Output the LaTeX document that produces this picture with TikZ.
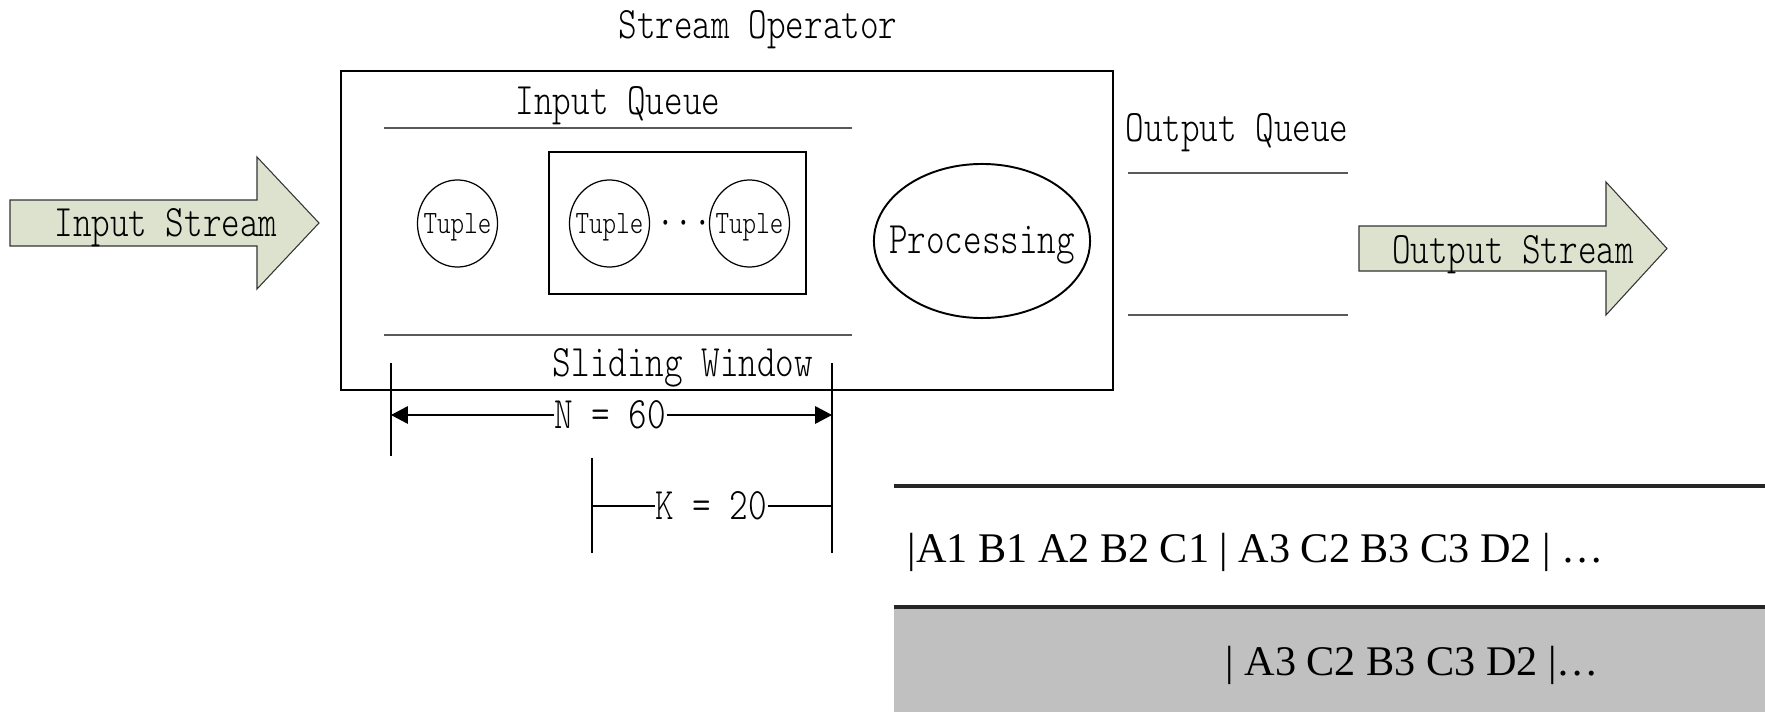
\documentclass[tikz,border=0pt]{standalone}
\usepackage{fontspec}
\usepackage{tikz}
\usetikzlibrary{shapes.geometric, arrows.meta}
\newfontfamily\opfont[FakeStretch=0.787]{lmmonolt10-regular.otf}
\newfontfamily\seqfont{Liberation Serif}
\definecolor{arrowfill}{RGB}{221,226,206}
\definecolor{seqgray}{RGB}{192,192,192}

\begin{document}
\begin{tikzpicture}[
    x=0.01cm,
    y=-0.01cm,
    txt/.style={
        font=\opfont\fontsize{12.8}{15}\selectfont,
        inner sep=0pt
    },
    lbl/.style={
        txt,
        anchor=base
    },
    tuplefont/.style={
        font=\opfont\fontsize{9.3}{11}\selectfont,
        inner sep=0pt,
        yshift=-1pt
    },
    tuple/.style={
        ellipse,
        draw,
        line width=0.35pt,
        minimum width=0.8cm,
        minimum height=0.87cm,
        inner sep=0pt,
        label={[tuplefont]center:Tuple}
    },
    proc/.style={
        ellipse,
        draw,
        line width=0.55pt,
        minimum width=2.16cm,
        minimum height=1.54cm,
        inner sep=0pt
    },
    stream/.style={
        draw=black!80,
        line width=0.3pt,
        fill=arrowfill
    },
    queue/.style={
        draw=black!65,
        line width=0.45pt
    },
    dimline/.style={
        line width=0.3pt
    },
    dimarr/.style={
        dimline,
        -{Triangle[length=4.8pt,width=5pt]}
    },
    seq/.style={
        font=\seqfont\fontsize{12}{14}\selectfont,
        inner sep=0pt,
        anchor=base west
    },
    bar/.style={
        line width=1pt,
        draw=black!85
    }
]

\useasboundingbox (0,0) rectangle (1765,712);

\draw[stream] (10,200) -- (257,200) -- (257,157) -- (319,223) -- (257,289) -- (257,246) -- (10,246) -- cycle;
\node[lbl] (instream) at (166,236) {Input Stream};

\node[lbl] (optitle) at (758,38) {Stream Operator};
\draw[line width=0.4pt] (341,71) rectangle (1113,390);

\node[lbl] (inqueue) at (618,114) {Input Queue};
\draw[queue] (384,128) -- (852,128);
\draw[queue] (384,335) -- (852,335);
\node[lbl] (window) at (683,376) {Sliding Window};

\node[tuple] (t1) at (457.5,223.5) {};
\draw[line width=0.4pt] (549,152) rectangle (806,294);
\node[tuple] (t2) at (609.5,223.5) {};
\node[tuple] (t3) at (749.5,223.5) {};
\node[txt] (dots) at (684,228.5) {\bfseries ···};

\node[proc, label={[txt, yshift=-1.3pt]center:Processing}] (proc) at (982,241) {};

\node[lbl] (outqueue) at (1237,142) {Output Queue};
\draw[queue] (1128,173) -- (1348,173);
\draw[queue] (1128,315) -- (1348,315);

\draw[stream] (1359,226) -- (1606,226) -- (1606,182) -- (1667,248.5) -- (1606,315) -- (1606,271) -- (1359,271) -- cycle;
\node[lbl] (outstream) at (1513,263) {Output Stream};

\draw[dimline] (391,363) -- (391,456);
\draw[dimline] (832,363) -- (832,553);
\draw[dimline] (592,458) -- (592,553);

\coordinate (nl) at (391,415);
\coordinate (nr) at (832,415);
\node[txt] (nval) at (610,415) {N = 60};
\draw[dimarr] (nval) -- (nl);
\draw[dimarr] (nval) -- (nr);

\coordinate (kl) at (592,506);
\coordinate (kr) at (832,506);
\node[txt] (kval) at (711,506) {K = 20};
\draw[dimline] (kval) -- (kl);
\draw[dimline] (kval) -- (kr);

\fill[seqgray] (894,607) rectangle (1765,712);
\draw[bar] (894,486) -- (1765,486);
\draw[bar] (894,607) -- (1765,607);
\node[seq] (seqall) at (907,562) {|A1 B1 A2 B2 C1 | A3 C2 B3 C3 D2 | …};
\node[seq] (seqwin) at (1225,675) {| A3 C2 B3 C3 D2 |…};

\end{tikzpicture}
\end{document}
